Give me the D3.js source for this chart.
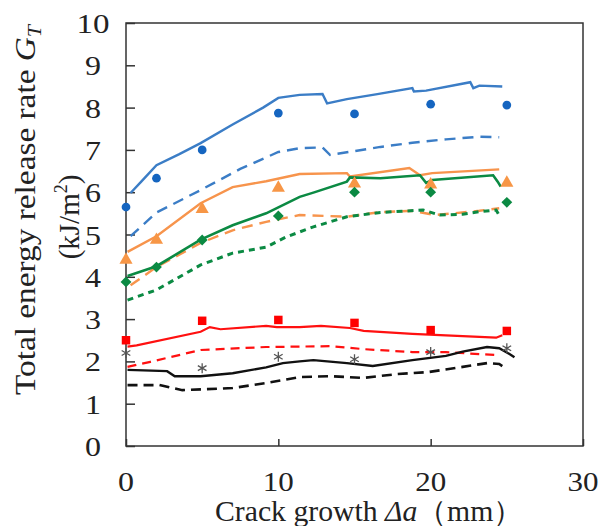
<!DOCTYPE html>
<html>
<head>
<meta charset="utf-8">
<script src="https://cdn.jsdelivr.net/npm/d3@7"></script>
<style>
  body { margin: 0; background: #fff; }
  svg text { font-family: "Liberation Serif", "DejaVu Serif", serif; fill: #222; }
</style>
</head>
<body>
<svg width="598" height="526"></svg>
<script>
// x ticks / y ticks
const xTicks = [0, 10, 20, 30];
const yTicks = [0, 1, 2, 3, 4, 5, 6, 7, 8, 9, 10];

// measured points (markers)
const markX = [0, 2, 5, 10, 15, 20, 25];
const blueDots = [5.65, 6.33, 7.0, 7.87, 7.85, 8.08, 8.06];
const orangeTri = [4.4, 4.87, 5.6, 6.1, 6.2, 6.18, 6.22];
const greenDia = [3.88, 4.23, 4.87, 5.44, 6.0, 6.0, 5.76];
const redSqX = [0, 5, 10, 15, 20, 25];
const redSq = [2.5, 2.96, 2.98, 2.91, 2.74, 2.72];
const blackStarX = [0, 5, 10, 15, 20, 25];
const blackStar = [2.2, 1.84, 2.11, 2.05, 2.22, 2.31];

// simulated curves [crack growth, G_T]
const blueSolid = [[0.3, 5.98], [1, 6.25], [2, 6.64], [3.5, 6.9], [4.9, 7.16], [7, 7.6], [9, 8.0], [10, 8.23], [11.4, 8.3], [12.9, 8.32], [13.2, 8.1], [14.5, 8.2], [16.5, 8.32], [18.8, 8.46], [18.9, 8.38], [19.7, 8.4], [22.6, 8.6], [22.8, 8.46], [23.2, 8.52], [24.7, 8.5]];
const blueDash = [[0.3, 4.96], [2, 5.52], [4.9, 6.05], [7.5, 6.55], [10, 6.95], [11.4, 7.04], [12.9, 7.06], [13.4, 6.88], [16.7, 7.07], [18.8, 7.17], [21, 7.25], [23.2, 7.31], [24.5, 7.3]];
const orangeSolid = [[0.1, 4.59], [2, 4.96], [4.9, 5.74], [7, 6.12], [9.2, 6.26], [11.4, 6.43], [14.5, 6.45], [14.7, 6.37], [18.6, 6.57], [19.3, 6.4], [20.1, 6.45], [24.5, 6.54]];
const orangeDash = [[0.3, 3.8], [2, 4.23], [4.9, 4.8], [7, 5.1], [9.2, 5.3], [11.4, 5.46], [14.5, 5.42], [16.7, 5.53], [18.8, 5.56], [20.3, 5.46], [23.2, 5.56], [24.5, 5.62]];
const greenSolid = [[0.1, 4.02], [2, 4.25], [4.9, 4.88], [7, 5.22], [9.2, 5.5], [10, 5.64], [11.4, 5.89], [12.3, 5.99], [14.5, 6.25], [14.7, 6.35], [16.7, 6.33], [19.3, 6.4], [19.7, 6.22], [20.1, 6.29], [24.1, 6.4], [24.4, 6.25], [24.6, 6.13]];
const greenDash = [[0.1, 3.45], [2, 3.69], [4.9, 4.28], [7, 4.56], [9.2, 4.7], [10.5, 4.94], [12.3, 5.18], [14.5, 5.42], [16.7, 5.52], [19.5, 5.58], [20.6, 5.46], [22.1, 5.48], [23.2, 5.54], [24.3, 5.58], [24.6, 5.39]];
const redSolid = [[0.1, 2.35], [0.7, 2.38], [4.9, 2.7], [5.5, 2.81], [6.2, 2.76], [9.2, 2.84], [9.9, 2.81], [11.4, 2.81], [12.8, 2.84], [14.7, 2.79], [15.6, 2.72], [18.8, 2.65], [23.2, 2.58], [24.3, 2.56], [24.7, 2.62]];
const redDash = [[0.1, 1.87], [1.6, 1.99], [4.9, 2.27], [9.2, 2.34], [11.4, 2.35], [13.4, 2.36], [15.6, 2.29], [18.8, 2.22], [21, 2.22], [24.3, 2.15]];
const blackSolid = [[0.1, 1.8], [2.7, 1.77], [3.2, 1.65], [4.9, 1.65], [7, 1.72], [9.2, 1.86], [10.3, 1.96], [11.4, 2.0], [12.3, 2.03], [14.5, 1.96], [16.2, 1.89], [18.8, 2.03], [21, 2.13], [22.1, 2.23], [23.7, 2.34], [24.5, 2.31], [25.2, 2.17], [25.5, 2.1]];
const blackDash = [[0.1, 1.44], [2.2, 1.44], [3.7, 1.32], [7, 1.37], [9.2, 1.49], [11.4, 1.63], [13.4, 1.65], [15.6, 1.61], [17.8, 1.7], [19.9, 1.75], [22.1, 1.87], [23.7, 1.96], [24.5, 1.94], [24.9, 1.84]];

const svg = d3.select('svg');
const pLeft = 126, pRight = 583, pTop = 23, pBottom = 446;
const x = d3.scaleLinear().domain([0, 30]).range([pLeft, pRight]);
const y = d3.scaleLinear().domain([0, 10]).range([pBottom, pTop]);

// frame
svg.append('rect')
  .attr('x', pLeft).attr('y', pTop)
  .attr('width', pRight - pLeft).attr('height', pBottom - pTop)
  .attr('fill', 'none').attr('stroke', '#333').attr('stroke-width', 1.5);

// axes with inward ticks
const yAxis = svg.append('g')
  .attr('transform', `translate(${pLeft},0)`)
  .call(d3.axisRight(y).tickValues(yTicks).tickSize(9).tickFormat(''));
const xAxis = svg.append('g')
  .attr('transform', `translate(0,${pBottom})`)
  .call(d3.axisTop(x).tickValues(xTicks).tickSize(7).tickFormat(''));
[yAxis, xAxis].forEach((g) => {
  g.select('.domain').remove();
  g.selectAll('line').attr('stroke', '#333').attr('stroke-width', 1.5);
});

// tick labels (wide serif digits, centred)
svg.selectAll('.ylab')
  .data(yTicks)
  .enter()
  .append('text')
  .attr('class', 'ylab')
  .attr('x', 93)
  .attr('y', d => y(d) + 10)
  .attr('text-anchor', 'middle')
  .attr('font-size', 28)
  .attr('textLength', d => d >= 10 ? 33 : 16)
  .attr('lengthAdjust', 'spacingAndGlyphs')
  .text(d => d);
svg.selectAll('.xlab')
  .data(xTicks)
  .enter()
  .append('text')
  .attr('class', 'xlab')
  .attr('x', d => x(d))
  .attr('y', 491)
  .attr('text-anchor', 'middle')
  .attr('font-size', 28)
  .attr('textLength', d => d >= 10 ? 31 : 16)
  .attr('lengthAdjust', 'spacingAndGlyphs')
  .text(d => d);

// axis titles
const xt = svg.append('text')
  .attr('x', 369).attr('y', 521)
  .attr('text-anchor', 'middle')
  .attr('font-size', 29)
  .attr('textLength', 308)
  .attr('lengthAdjust', 'spacingAndGlyphs');
xt.append('tspan').text('Crack growth ');
xt.append('tspan').attr('font-style', 'italic').text('Δa');
xt.append('tspan').text('（mm）');

const yt = svg.append('text')
  .attr('transform', 'translate(35,210) rotate(-90)')
  .attr('text-anchor', 'middle')
  .attr('font-size', 29)
  .attr('textLength', 370)
  .attr('lengthAdjust', 'spacingAndGlyphs');
yt.append('tspan').text('Total energy release rate ');
yt.append('tspan').attr('font-style', 'italic').text('G');
yt.append('tspan').attr('font-style', 'italic').attr('font-size', 19).attr('dy', 6).text('T');

const yt2 = svg.append('text')
  .attr('transform', 'translate(79,217) rotate(-90)')
  .attr('text-anchor', 'middle')
  .attr('font-size', 29);
yt2.append('tspan').text('(kJ/m');
yt2.append('tspan').attr('font-size', 18).attr('dy', -12).text('2');
yt2.append('tspan').attr('dy', 12).text(')');

// curves
const line = d3.line().x(d => x(d[0])).y(d => y(d[1]));
const curves = [
  {data: blueSolid, color: '#3b7dc6', w: 2.4, dash: null},
  {data: blueDash, color: '#3b7dc6', w: 2.4, dash: '11,7'},
  {data: orangeSolid, color: '#f7944c', w: 2.4, dash: null},
  {data: orangeDash, color: '#f7944c', w: 2.4, dash: '11,7'},
  {data: greenSolid, color: '#0b8a43', w: 2.6, dash: null},
  {data: greenDash, color: '#0b8a43', w: 3, dash: '6,5'},
  {data: redSolid, color: '#ff1010', w: 2.2, dash: null},
  {data: redDash, color: '#ff1010', w: 2.2, dash: '9,6'},
  {data: blackSolid, color: '#111', w: 2.4, dash: null},
  {data: blackDash, color: '#111', w: 2.6, dash: '10,6'},
];
svg.selectAll('.curve')
  .data(curves)
  .enter()
  .append('path')
  .attr('class', 'curve')
  .attr('d', d => line(d.data))
  .attr('fill', 'none')
  .attr('stroke', d => d.color)
  .attr('stroke-width', d => d.w)
  .attr('stroke-dasharray', d => d.dash);

// markers
const markers = [
  {xs: markX, ys: blueDots, type: d3.symbolCircle, size: 60, color: '#1565c0'},
  {xs: markX, ys: orangeTri, type: d3.symbolTriangle, size: 75, color: '#f79646'},
  {xs: markX, ys: greenDia, type: d3.symbolDiamond2, size: 75, color: '#0b8a43'},
  {xs: redSqX, ys: redSq, type: d3.symbolSquare, size: 72, color: '#ff0000'},
];
markers.forEach((m) => {
  svg.append('g')
    .selectAll('path')
    .data(m.ys.map((v, i) => [m.xs[i], v]))
    .enter()
    .append('path')
    .attr('transform', d => `translate(${x(d[0])},${y(d[1])})`)
    .attr('d', d3.symbol().type(m.type).size(m.size))
    .attr('fill', m.color);
});
// asterisks
svg.append('g')
  .selectAll('path')
  .data(blackStar.map((v, i) => [blackStarX[i], v]))
  .enter()
  .append('path')
  .attr('transform', d => `translate(${x(d[0])},${y(d[1])})`)
  .attr('d', d3.symbol().type(d3.symbolAsterisk).size(70))
  .attr('fill', 'none')
  .attr('stroke', '#555')
  .attr('stroke-width', 1.3);
</script>
</body>
</html>
